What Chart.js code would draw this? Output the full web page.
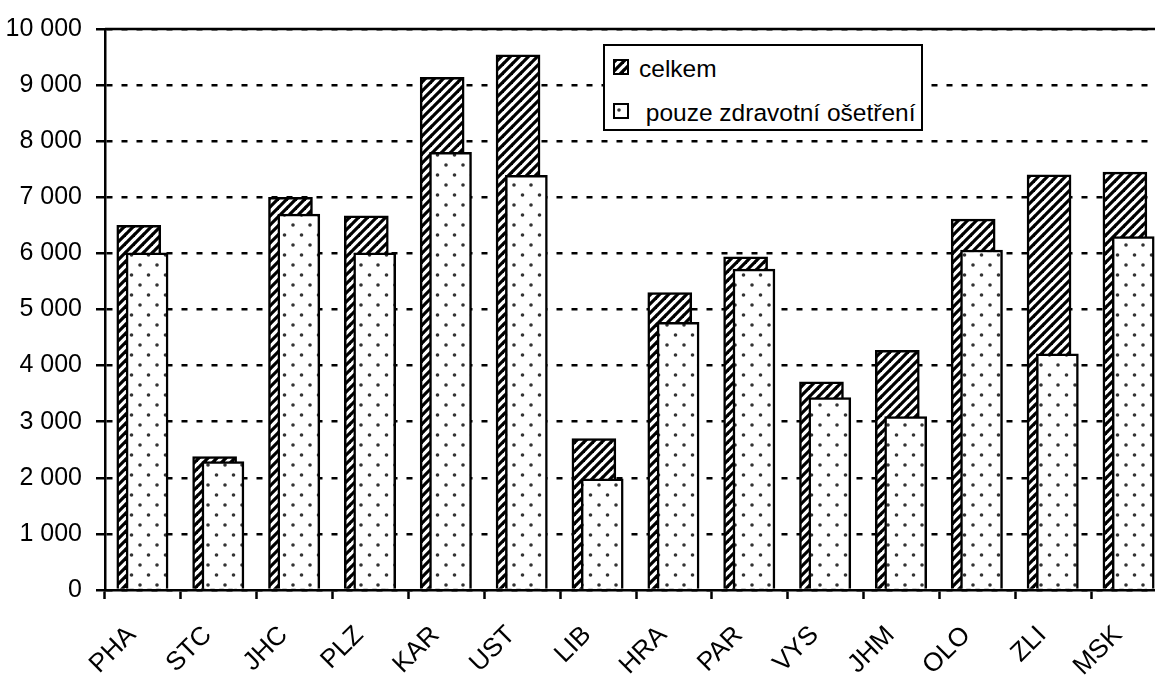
<!DOCTYPE html>
<html lang="cs">
<head>
<meta charset="utf-8">
<title>celkem / pouze zdravotní ošetření</title>
<script src="https://cdn.jsdelivr.net/npm/chart.js@4/dist/chart.umd.min.js"></script>
<style>
  html, body { margin: 0; padding: 0; background: #fff; overflow: hidden; }
  #obal { position: relative; width: 1180px; height: 675px; }
  #graf { position: absolute; left: 0; top: 0; }
  #legenda {
    position: absolute; left: 603px; top: 44px; width: 320px; height: 87px;
    box-sizing: border-box; border: 2px solid #000; background: #fff;
    font-family: 'Liberation Sans', Arial, sans-serif; font-size: 24.5px; color: #000;
  }
  .polozka { position: absolute; left: 8px; height: 16px; line-height: 16px; white-space: pre; }
  .ikona { position: absolute; left: 0; top: 0; width: 16px; height: 16px; box-sizing: border-box; border: 2px solid #000; }
  .text { position: absolute; left: 26px; top: 2px; }
</style>
</head>
<body>
<div id="obal">
  <canvas id="graf" width="1180" height="675"></canvas>
  <div id="legenda">
    <div class="polozka" style="top:13px"><span class="ikona" id="ikona-celkem"></span><span class="text">celkem</span></div>
    <div class="polozka" style="top:57px"><span class="ikona" id="ikona-zdrav"></span><span class="text"> pouze zdravotní ošetření</span></div>
  </div>
</div>
<script>
// kraje a hodnoty
const kraje = ['PHA', 'STC', 'JHC', 'PLZ', 'KAR', 'UST', 'LIB', 'HRA', 'PAR', 'VYS', 'JHM', 'OLO', 'ZLI', 'MSK'];
const celkem = [6500, 2380, 7000, 6670, 9140, 9540, 2700, 5300, 5940, 3710, 4270, 6610, 7400, 7450];
const zdravotni = [6010, 2290, 6700, 6010, 7800, 7390, 1980, 4770, 5720, 3430, 3090, 6060, 4210, 6300];
const osaYMax = 10000;
const osaYKrok = 1000;

const PISMO_OS = "'Liberation Sans', Arial, sans-serif";
const POSUN = 0.055; // o kolik je sloupec posunut od středu kategorie

function srafovani() {
    const c = document.createElement('canvas');
    c.width = 9; c.height = 9;
    const g = c.getContext('2d');
    g.fillStyle = '#fff';
    g.fillRect(0, 0, 9, 9);
    g.strokeStyle = '#000';
    g.lineWidth = 3.2;
    for (const k of [-9, 0, 9]) {
        g.beginPath();
        g.moveTo(k - 1, 10);
        g.lineTo(k + 10, -1);
        g.stroke();
    }
    return c;
}

function tecky() {
    const c = document.createElement('canvas');
    c.width = 17; c.height = 20;
    const g = c.getContext('2d');
    g.fillStyle = '#fff';
    g.fillRect(0, 0, 17, 20);
    g.fillStyle = '#333';
    [[4, 5], [12.5, 15]].forEach(([x, y]) => {
        g.beginPath();
        g.arc(x, y, 1.8, 0, Math.PI * 2);
        g.fill();
    });
    return c;
}

const dlazdiceSraf = srafovani();
const dlazdiceTecky = tecky();
const pom = document.createElement('canvas').getContext('2d');
const vzorSraf = pom.createPattern(dlazdiceSraf, 'repeat');
const vzorTecky = pom.createPattern(dlazdiceTecky, 'repeat');

document.getElementById('ikona-celkem').style.background = `url(${dlazdiceSraf.toDataURL()})`;
document.getElementById('ikona-zdrav').style.background = `url(${dlazdiceTecky.toDataURL()})`;

function formatTisice(v) {
    return String(v).replace(/\B(?=(\d{3})+(?!\d))/g, ' ');
}

const horniLinka = {
    id: 'horniLinka',
    beforeDatasetsDraw(chart) {
        const { ctx, chartArea: a } = chart;
        ctx.save();
        ctx.strokeStyle = '#000';
        ctx.lineWidth = 2.5;
        ctx.beginPath();
        ctx.moveTo(a.left, a.top);
        ctx.lineTo(a.right, a.top);
        ctx.stroke();
        ctx.restore();
    }
};

new Chart(document.getElementById('graf'), {
    type: 'bar',
    data: {
        labels: kraje,
        datasets: [{
            label: 'celkem',
            data: celkem.map((v, i) => ({ x: i, y: v })),
            xAxisID: 'xa',
            backgroundColor: vzorSraf,
            borderColor: '#000',
            borderWidth: 2.5,
            barThickness: 44,
            grouped: false,
            order: 1
        }, {
            label: 'pouze zdravotní ošetření',
            data: zdravotni.map((v, i) => ({ x: i, y: v })),
            xAxisID: 'xb',
            backgroundColor: vzorTecky,
            borderColor: '#000',
            borderWidth: 2.5,
            barThickness: 42,
            grouped: false,
            order: 0
        }]
    },
    options: {
        responsive: false,
        animation: false,
        layout: { padding: { top: 20, right: 13, bottom: 0, left: 0 } },
        plugins: { legend: { display: false }, tooltip: { enabled: false } },
        scales: {
            x: {
                type: 'category',
                offset: true,
                grid: { offset: true, drawOnChartArea: false, drawTicks: true, tickLength: 9, tickWidth: 2.5, tickColor: '#000' },
                border: { color: '#000', width: 2.5 },
                ticks: {
                    autoSkip: false, minRotation: 45, maxRotation: 45,
                    labelOffset: -11, padding: 21,
                    color: '#000', font: { family: PISMO_OS, size: 26 }
                },
                afterFit: s => { s.height = 85; }
            },
            xa: { type: 'linear', display: false, offset: false, min: -0.5 + POSUN, max: kraje.length - 0.5 + POSUN, grid: { offset: false } },
            xb: { type: 'linear', display: false, offset: false, min: -0.5 - POSUN, max: kraje.length - 0.5 - POSUN, grid: { offset: false } },
            y: {
                min: 0, max: osaYMax,
                ticks: {
                    stepSize: osaYKrok, padding: 14, color: '#000',
                    font: { family: PISMO_OS, size: 25 },
                    callback: v => formatTisice(v)
                },
                grid: { color: '#000', lineWidth: 2.5, tickLength: 9, tickWidth: 2.5, tickColor: '#000', tickBorderDash: [] },
                border: { color: '#000', width: 2.5, dash: [6, 9] },
                afterFit: s => { s.width = 105; }
            }
        }
    },
    plugins: [horniLinka]
});
</script>
</body>
</html>
